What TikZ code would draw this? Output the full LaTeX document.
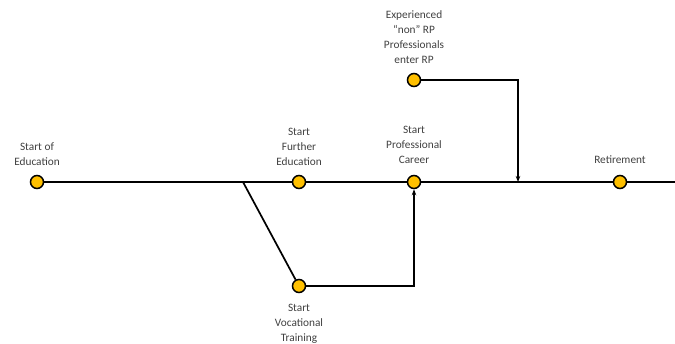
\documentclass[tikz,border=0pt]{standalone}
\usepackage{fontspec}
\setmainfont{Carlito}
\usetikzlibrary{arrows.meta}
\definecolor{dotfill}{HTML}{FFC000}
\definecolor{txt}{HTML}{404040}
\begin{document}
\begin{tikzpicture}[x=1pt,y=-1pt,
  dot/.style={circle,draw=black,line width=1.5pt,fill=dotfill,minimum size=13pt,inner sep=0pt},
  lbl/.style={align=center,text=txt,font=\fontsize{11.3}{15}\selectfont,inner sep=0pt,anchor=base},
  line/.style={line width=1.7pt,draw=black},
  arr/.style={line,-{Stealth[length=6pt,width=4.5pt]}}]
\useasboundingbox (0,0) rectangle (675,343);
% nodes
\node[dot] (edu) at (37,182) {};
\node[dot] (fur) at (299,182) {};
\node[dot] (pro) at (414,182) {};
\node[dot] (ret) at (620,182) {};
\node[dot] (exp) at (414,80) {};
\node[dot] (voc) at (299,286) {};
\coordinate (br) at (243,182);
\coordinate (end) at (675,182);
\coordinate (vc) at (414,286);
\coordinate (ec) at (518,80);
\coordinate (ej) at (518,182);
% main line
\draw[line] (edu) -- (br) -- (fur) -- (pro) -- (ret) -- (end);
\draw[line] (br) -- (voc);
\draw[arr] (voc) -- (vc) -- (pro);
\draw[arr] (exp) -- (ec) -- (ej);
% labels
\node[lbl] (l1) at (37,165) {Start of\\Education};
\node[lbl] (l2) at (299,165) {Start\\Further\\Education};
\node[lbl] (l3) at (414,163) {Start\\Professional\\Career};
\node[lbl] (l4) at (414,63) {Experienced\\“non” RP\\Professionals\\enter RP};
\node[lbl] (l5) at (620,163) {Retirement};
\node[lbl] (l6) at (299,341) {Start\\Vocational\\Training};
\end{tikzpicture}
\end{document}
